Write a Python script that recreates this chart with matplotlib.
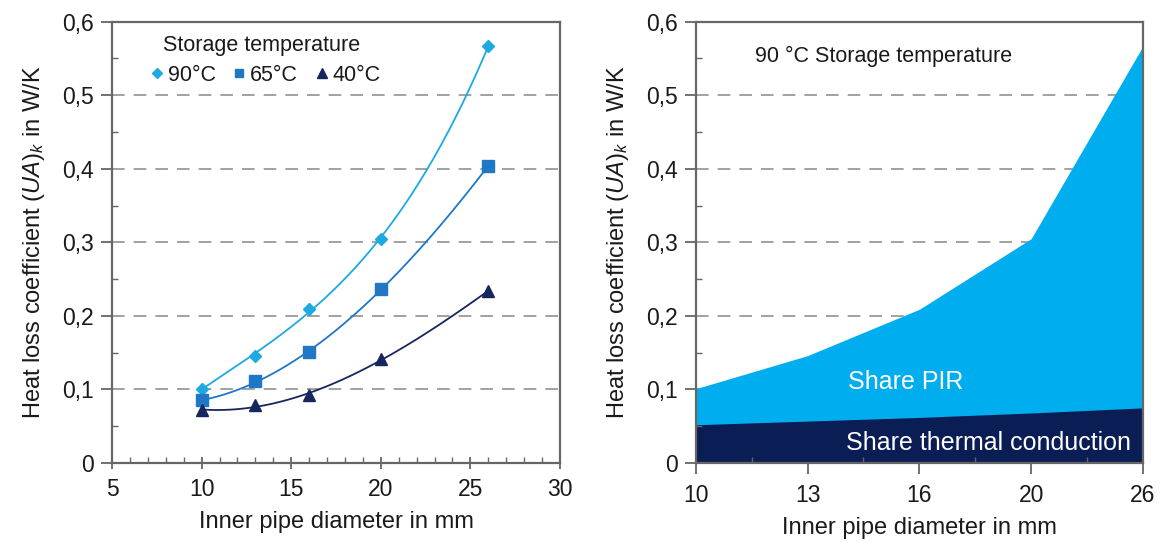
import numpy as np
import matplotlib
matplotlib.use("Agg")
import matplotlib.pyplot as plt
from matplotlib.ticker import MultipleLocator, FixedLocator

plt.rcParams['font.family'] = ['Liberation Sans', 'DejaVu Sans']
plt.rcParams['mathtext.fontset'] = 'custom'
plt.rcParams['mathtext.rm'] = 'Liberation Sans'
plt.rcParams['mathtext.it'] = 'Liberation Sans:italic'

# ---- data ----
diameters = [10, 13, 16, 20, 26]
ua_90 = [0.101, 0.146, 0.209, 0.305, 0.567]
ua_65 = [0.085, 0.111, 0.151, 0.236, 0.404]
ua_40 = [0.072, 0.079, 0.092, 0.141, 0.234]
share_conduction = [0.052, 0.057, 0.062, 0.068, 0.075]
diam_labels = ['10', '13', '16', '20', '26']
y_ticklabels = ['0', '0,1', '0,2', '0,3', '0,4', '0,5', '0,6']

c90 = '#1DA9E1'
c65 = '#1F77C6'
c40 = '#16275F'
c_pir = '#00AEEF'
c_cond = '#0B1D55'
grid_col = '#9a9a9a'
spine_col = '#666666'
txt_col = '#1a1a1a'

fig = plt.figure(figsize=(11.65, 5.43), dpi=100)
axL = fig.add_axes([112 / 1165, 80 / 543, 448 / 1165, 441.3 / 543])
axR = fig.add_axes([695.7 / 1165, 80 / 543, 447.3 / 1165, 441.3 / 543])

ylabel = r'Heat loss coefficient $(\mathit{UA})_k$ in W/K'
yticks = [0, 0.1, 0.2, 0.3, 0.4, 0.5, 0.6]

def style_axes(ax, xdir):
    ax.set_ylim(0, 0.6)
    ax.set_yticks(yticks)
    ax.set_yticklabels(y_ticklabels)
    ax.yaxis.set_minor_locator(MultipleLocator(0.05))
    for y in [0.1, 0.2, 0.3, 0.4, 0.5]:
        ax.axhline(y, color=grid_col, lw=1.3, dashes=(7, 5), zorder=0.5)
    for s in ax.spines.values():
        s.set_color(spine_col)
        s.set_linewidth(1.6)
    ax.tick_params(axis='y', which='major', direction='out', length=8, width=1.3,
                   color=spine_col, pad=5, labelsize=16.5, labelcolor=txt_col)
    ax.tick_params(axis='x', which='major', direction=xdir, length=8, width=1.3,
                   color=spine_col, pad=7, labelsize=16.5, labelcolor=txt_col)
    ax.tick_params(axis='both', which='minor', direction='in', length=4,
                   width=1.0, color=spine_col)
    ax.set_ylabel(ylabel, fontsize=17, labelpad=11, color=txt_col)
    ax.set_xlabel('Inner pipe diameter in mm', fontsize=17, labelpad=7, color=txt_col)

# ---- left panel ----
x = np.array(diameters, dtype=float)
xs = np.linspace(10, 26, 200)
series = [(ua_90, c90, 'D', 6.5, '90°C'), (ua_65, c65, 's', 8.5, '65°C'), (ua_40, c40, '^', 9, '40°C')]
for vals, col, mk, ms, lab in series:
    coef = np.polyfit(x, vals, 3)
    axL.plot(xs, np.polyval(coef, xs), color=col, lw=1.3, zorder=2)
    axL.plot(x, vals, linestyle='none', marker=mk, color=col, ms=ms, label=lab, zorder=3)
axL.set_xlim(5, 30)
axL.set_xticks([5, 10, 15, 20, 25, 30])
axL.xaxis.set_minor_locator(MultipleLocator(1))
style_axes(axL, 'inout')
axL.text(7.85, 0.568, 'Storage temperature', fontsize=15.5, color=txt_col, va='center')
axL.legend(loc='center left', bbox_to_anchor=(6.3, 0.527), bbox_transform=axL.transData,
           ncol=3, frameon=False, fontsize=15.5, handletextpad=0.0,
           columnspacing=0.6, handlelength=1.0, markerscale=0.75, borderpad=0,
           labelcolor=txt_col)

# ---- right panel ----
pos = np.arange(len(diameters))
axR.fill_between(pos, 0, ua_90, color=c_pir, lw=0, zorder=1)
axR.fill_between(pos, 0, share_conduction, color=c_cond, lw=0, zorder=1.5)
axR.set_xlim(pos[0], pos[-1])
axR.set_xticks(pos)
axR.set_xticklabels(diam_labels)
axR.xaxis.set_minor_locator(FixedLocator(pos[:-1] + 0.5))
style_axes(axR, 'out')
axR.text(0.53, 0.553, '90 °C Storage temperature', fontsize=15.5, color=txt_col, va='center')
axR.text(1.36, 0.110, 'Share PIR', fontsize=18, color='white', va='center')
axR.text(1.34, 0.027, 'Share thermal conduction', fontsize=18, color='white', va='center')

fig.savefig('out.png', dpi=100)
